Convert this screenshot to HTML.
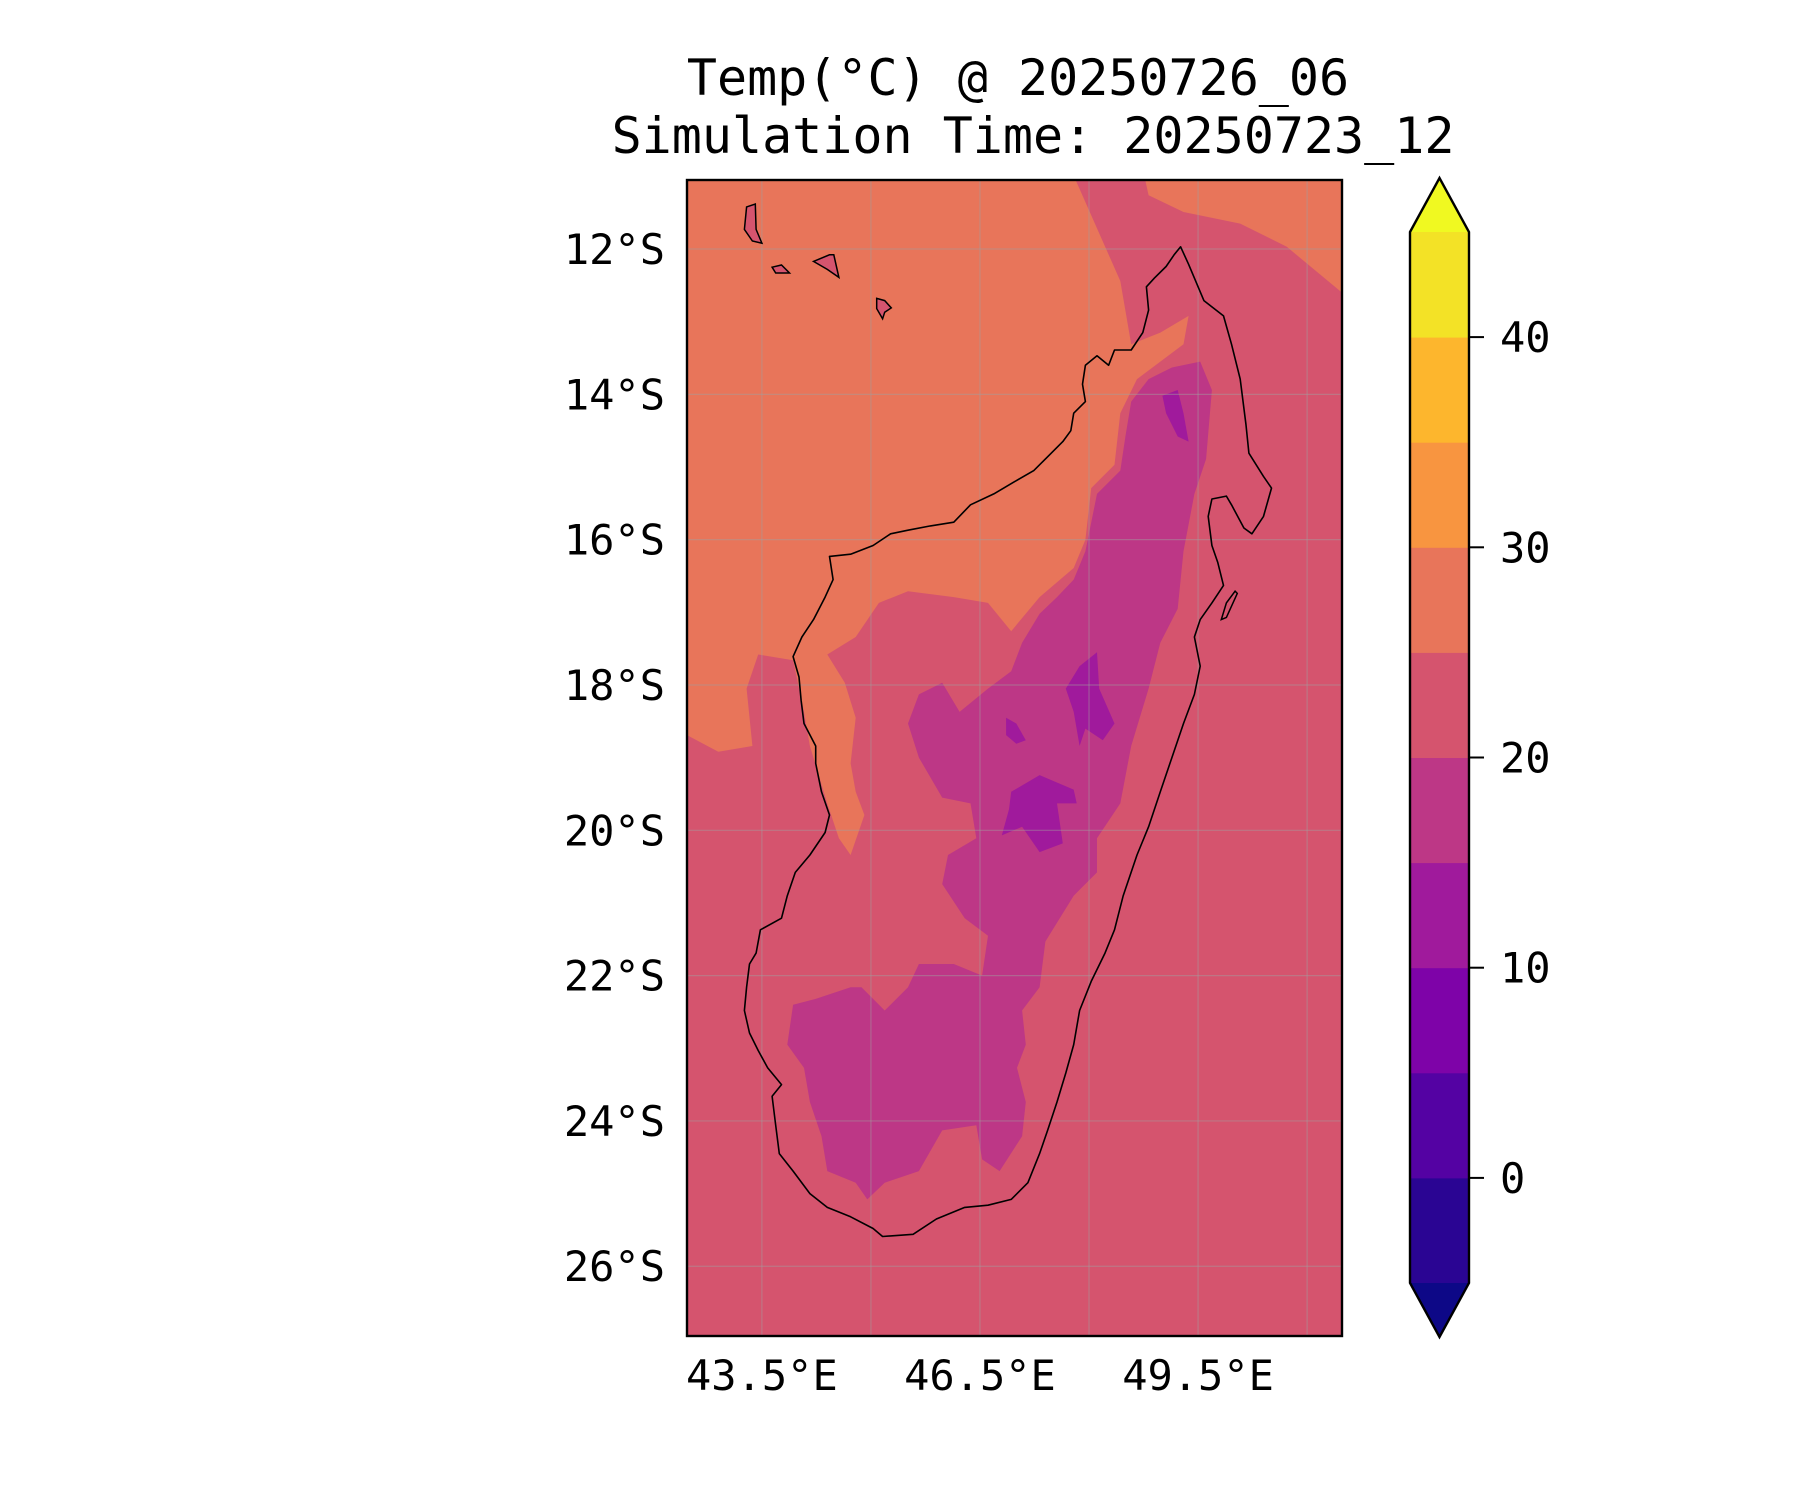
<!DOCTYPE html>
<html><head><meta charset="utf-8"><style>
html,body{margin:0;padding:0;background:#fff;}
svg{display:block;font-family:"DejaVu Sans Mono","Liberation Mono",monospace;}
</style></head><body>
<svg id="fig" width="1800" height="1500" viewBox="0 0 1800 1500" xmlns="http://www.w3.org/2000/svg">
<defs><clipPath id="mapclip"><rect x="687" y="180" width="655" height="1156"/></clipPath></defs>
<text x="1018" y="95" font-size="50" text-anchor="middle">Temp(°C) @ 20250726_06</text>
<text x="1033" y="153" font-size="50" text-anchor="middle">Simulation Time: 20250723_12</text>
<g id="map" clip-path="url(#mapclip)"></g>
<g id="axes"></g>
<g id="cbar"></g>
</svg>
<script>
// ---- data (lon °E, lat in °S) ----
const lonTicks = [43.5, 46.5, 49.5];
const lonGrid = [43.5, 45, 46.5, 48, 49.5, 51];
const latTicks = [12, 14, 16, 18, 20, 22, 24, 26];
const levels = [-5, 0, 5, 10, 15, 20, 25, 30, 35, 40, 45];
const levelColors = ["#2a0593","#5402a3","#7e03a8","#a01a9c","#bd3786","#d5546e","#e8755a","#f89540","#fdb62d","#f3e226"];
const underColor = "#0d0887";
const overColor = "#f0f921";
const cbarTicks = [0, 10, 20, 30, 40];
const backgroundLevel = 20;
const islandLevel = 20;

const coast = [[49.26,11.97],[49.37,12.21],[49.58,12.71],[49.85,12.92],[49.96,13.31],[50.08,13.79],[50.16,14.42],[50.20,14.81],[50.40,15.13],[50.51,15.29],[50.40,15.68],[50.24,15.92],[50.13,15.84],[49.96,15.52],[49.89,15.40],[49.69,15.44],[49.64,15.68],[49.69,16.08],[49.77,16.31],[49.85,16.63],[49.69,16.87],[49.53,17.10],[49.45,17.34],[49.53,17.74],[49.45,18.13],[49.30,18.53],[49.14,19.00],[48.98,19.47],[48.82,19.95],[48.66,20.34],[48.47,20.90],[48.35,21.37],[48.22,21.69],[48.03,22.08],[47.87,22.48],[47.79,22.95],[47.68,23.34],[47.56,23.74],[47.43,24.13],[47.32,24.45],[47.16,24.85],[46.93,25.08],[46.61,25.16],[46.29,25.19],[45.90,25.35],[45.58,25.56],[45.16,25.59],[45.03,25.48],[44.72,25.32],[44.40,25.19],[44.16,25.00],[43.93,24.69],[43.74,24.45],[43.69,24.06],[43.64,23.66],[43.77,23.50],[43.58,23.27],[43.45,23.03],[43.33,22.79],[43.26,22.48],[43.29,22.16],[43.33,21.84],[43.42,21.69],[43.48,21.37],[43.77,21.21],[43.85,20.90],[43.96,20.58],[44.16,20.34],[44.37,20.03],[44.43,19.79],[44.32,19.47],[44.24,19.08],[44.24,18.84],[44.08,18.53],[44.04,18.21],[44.01,17.89],[43.93,17.61],[44.05,17.34],[44.21,17.10],[44.37,16.79],[44.48,16.55],[44.43,16.23],[44.72,16.20],[45.03,16.08],[45.27,15.92],[45.51,15.87],[45.82,15.81],[46.14,15.76],[46.37,15.52],[46.69,15.37],[46.96,15.21],[47.24,15.05],[47.48,14.81],[47.64,14.65],[47.75,14.50],[47.79,14.26],[47.95,14.10],[47.91,13.86],[47.95,13.60],[48.11,13.47],[48.27,13.60],[48.35,13.39],[48.58,13.39],[48.74,13.15],[48.82,12.84],[48.79,12.52],[48.90,12.40],[49.06,12.24],[49.17,12.08]];
const islandGrandeComore = [[43.29,11.42],[43.41,11.38],[43.42,11.73],[43.50,11.92],[43.37,11.89],[43.26,11.73]];
const islandMoheli = [[43.64,12.25],[43.77,12.22],[43.88,12.33],[43.69,12.33]];
const islandAnjouan = [[44.21,12.17],[44.43,12.08],[44.49,12.08],[44.56,12.39],[44.40,12.28]];
const islandMayotte = [[45.08,12.68],[45.19,12.71],[45.28,12.81],[45.19,12.87],[45.16,12.96],[45.08,12.82]];
const islandSteMarie = [[50.01,16.71],[50.04,16.74],[49.89,17.07],[49.82,17.10],[49.89,16.87]];

const zoneWarmNW = [[42.3,10.9],[47.75,10.9],[48.43,12.44],[48.58,13.31],[48.98,13.15],[49.37,12.92],[49.30,13.31],[48.66,13.79],[48.43,14.26],[48.35,14.97],[48.03,15.29],[47.95,16.0],[47.79,16.39],[47.32,16.79],[46.93,17.26],[46.61,16.87],[46.14,16.79],[45.51,16.71],[45.11,16.87],[44.79,17.34],[44.40,17.58],[44.64,17.97],[44.79,18.45],[44.72,19.08],[44.79,19.47],[44.91,19.79],[44.72,20.34],[44.56,20.11],[44.40,19.63],[44.16,18.84],[44.08,18.37],[43.93,17.66],[43.45,17.58],[43.29,18.05],[43.37,18.84],[42.90,18.92],[42.3,18.6]];
const zoneWarmNE = [[48.74,10.9],[51.6,10.9],[51.6,12.7],[50.72,11.97],[50.08,11.65],[49.30,11.49],[48.82,11.26]];
const zoneCoolInterior = [[49.53,13.55],[49.69,13.94],[49.61,14.89],[49.45,15.37],[49.30,16.16],[49.22,16.95],[48.98,17.42],[48.82,18.05],[48.58,18.84],[48.43,19.63],[48.11,20.11],[48.11,20.58],[47.79,20.90],[47.40,21.53],[47.32,22.16],[47.08,22.48],[47.13,22.95],[47.01,23.27],[47.13,23.74],[47.08,24.21],[46.77,24.69],[46.53,24.53],[46.45,24.06],[45.98,24.13],[45.66,24.69],[45.19,24.85],[44.95,25.08],[44.79,24.85],[44.40,24.69],[44.32,24.21],[44.16,23.74],[44.08,23.27],[43.85,22.95],[43.93,22.40],[44.24,22.32],[44.72,22.16],[44.87,22.16],[45.19,22.48],[45.51,22.16],[45.66,21.84],[46.14,21.84],[46.53,22.00],[46.61,21.45],[46.29,21.21],[45.98,20.74],[46.06,20.34],[46.45,20.11],[46.37,19.63],[45.98,19.55],[45.66,19.00],[45.51,18.53],[45.66,18.13],[45.98,17.97],[46.22,18.37],[46.61,18.05],[46.93,17.81],[47.08,17.42],[47.32,17.02],[47.56,16.79],[47.79,16.55],[47.95,16.16],[48.11,15.37],[48.43,15.05],[48.50,14.58],[48.58,14.10],[48.82,13.79],[49.14,13.63]];
const zoneColdA = [[49.01,14.02],[49.22,13.94],[49.30,14.26],[49.37,14.65],[49.22,14.58],[49.06,14.26]];
const zoneColdB = [[47.87,17.74],[48.11,17.55],[48.14,18.05],[48.35,18.53],[48.19,18.76],[47.95,18.60],[47.87,18.84],[47.79,18.37],[47.68,18.05]];
const zoneColdC = [[46.93,19.47],[47.32,19.24],[47.79,19.44],[47.83,19.63],[47.56,19.63],[47.64,20.18],[47.32,20.30],[47.08,19.95],[46.80,20.07],[46.90,19.71]];
const zoneColdD = [[46.86,18.45],[47.0,18.53],[47.13,18.76],[47.0,18.81],[46.86,18.69]];
const zones = [[25, zoneWarmNW],[25, zoneWarmNE],[15, zoneCoolInterior],[10, zoneColdA],[10, zoneColdB],[10, zoneColdC],[10, zoneColdD]];
const islandShapes = [islandGrandeComore, islandMoheli, islandAnjouan, islandMayotte, islandSteMarie];

// ---- projection ----
const X0=687, X1=1342, Y0=180, Y1=1336;
const LON0=42.47, LON1=51.48, LAT0=11.05, LAT1=26.96;
const px = lon => X0 + (lon-LON0)/(LON1-LON0)*(X1-X0);
const py = lat => Y0 + (lat-LAT0)/(LAT1-LAT0)*(Y1-Y0);
const NS="http://www.w3.org/2000/svg";
function colorFor(v){ for(let i=0;i<levels.length-1;i++){ if(v>=levels[i]&&v<levels[i+1]) return levelColors[i]; } return v<levels[0]?underColor:overColor; }
function pts(poly){ return poly.map(p=>px(p[0]).toFixed(1)+","+py(p[1]).toFixed(1)).join(" "); }

const map=document.getElementById('map');
const bg=document.createElementNS(NS,'rect');
bg.setAttribute('x',X0);bg.setAttribute('y',Y0);bg.setAttribute('width',X1-X0);bg.setAttribute('height',Y1-Y0);
bg.setAttribute('fill',colorFor(backgroundLevel));


map.appendChild(bg);
zones.forEach(z=>{
  const p=document.createElementNS(NS,'polygon');
  p.setAttribute('points',pts(z[1]));p.setAttribute('fill',colorFor(z[0]));
  
  
  map.appendChild(p);
});
lonGrid.forEach(l=>{
  const ln=document.createElementNS(NS,'line');
  ln.setAttribute('x1',px(l));ln.setAttribute('x2',px(l));ln.setAttribute('y1',Y0);ln.setAttribute('y2',Y1);
  ln.setAttribute('stroke','rgba(160,160,160,0.45)');ln.setAttribute('stroke-width','1.2');
  
  
  map.appendChild(ln);
});
latTicks.forEach(l=>{
  const ln=document.createElementNS(NS,'line');
  ln.setAttribute('y1',py(l));ln.setAttribute('y2',py(l));ln.setAttribute('x1',X0);ln.setAttribute('x2',X1);
  ln.setAttribute('stroke','rgba(160,160,160,0.45)');ln.setAttribute('stroke-width','1.2');
  
  
  map.appendChild(ln);
});
const c=document.createElementNS(NS,'polygon');
c.setAttribute('points',pts(coast));c.setAttribute('fill','none');c.setAttribute('stroke','#000');c.setAttribute('stroke-width','1.6');c.setAttribute('stroke-linejoin','round');


map.appendChild(c);
islandShapes.forEach(s=>{
  const p=document.createElementNS(NS,'polygon');
  p.setAttribute('points',pts(s));p.setAttribute('fill',colorFor(islandLevel));p.setAttribute('stroke','#000');p.setAttribute('stroke-width','1.5');
  
  
  map.appendChild(p);
});

const ax=document.getElementById('axes');
const frame=document.createElementNS(NS,'rect');
frame.setAttribute('x',X0);frame.setAttribute('y',Y0);frame.setAttribute('width',X1-X0);frame.setAttribute('height',Y1-Y0);
frame.setAttribute('fill','none');frame.setAttribute('stroke','#000');frame.setAttribute('stroke-width','2.4');


ax.appendChild(frame);
latTicks.forEach(l=>{
  const t=document.createElementNS(NS,'text');
  t.setAttribute('x',665);t.setAttribute('y',py(l)+15);t.setAttribute('font-size','42');t.setAttribute('text-anchor','end');
  t.textContent=l+"°S";
  
  
  ax.appendChild(t);
});
lonTicks.forEach(l=>{
  const t=document.createElementNS(NS,'text');
  t.setAttribute('x',px(l));t.setAttribute('y',1390);t.setAttribute('font-size','42');t.setAttribute('text-anchor','middle');
  t.textContent=l.toFixed(1)+"°E";
  
  
  ax.appendChild(t);
});

const cb=document.getElementById('cbar');
const CX0=1410, CX1=1469, CT=232, CB=1283, TIP_T=178, TIP_B=1337;
const cy = v => CB - (v-levels[0])/(levels[levels.length-1]-levels[0])*(CB-CT);
for(let i=0;i<levels.length-1;i++){
  const r=document.createElementNS(NS,'rect');
  r.setAttribute('x',CX0);r.setAttribute('width',CX1-CX0);
  r.setAttribute('y',cy(levels[i+1]));r.setAttribute('height',cy(levels[i])-cy(levels[i+1])+0.5);
  r.setAttribute('fill',levelColors[i]);
  
  
  cb.appendChild(r);
}
const cm=(CX0+CX1)/2;
const up=document.createElementNS(NS,'polygon');
up.setAttribute('points',`${CX0},${CT} ${cm},${TIP_T} ${CX1},${CT}`);up.setAttribute('fill',overColor);


cb.appendChild(up);
const dn=document.createElementNS(NS,'polygon');
dn.setAttribute('points',`${CX0},${CB} ${cm},${TIP_B} ${CX1},${CB}`);dn.setAttribute('fill',underColor);


cb.appendChild(dn);
const outline=document.createElementNS(NS,'polygon');
outline.setAttribute('points',`${CX0},${CT} ${cm},${TIP_T} ${CX1},${CT} ${CX1},${CB} ${cm},${TIP_B} ${CX0},${CB}`);
outline.setAttribute('fill','none');outline.setAttribute('stroke','#000');outline.setAttribute('stroke-width','2.4');


cb.appendChild(outline);
cbarTicks.forEach(v=>{
  const ln=document.createElementNS(NS,'line');
  ln.setAttribute('x1',CX1);ln.setAttribute('x2',CX1+15);ln.setAttribute('y1',cy(v));ln.setAttribute('y2',cy(v));
  ln.setAttribute('stroke','#000');ln.setAttribute('stroke-width','2');
  
  
  cb.appendChild(ln);
  const t=document.createElementNS(NS,'text');
  t.setAttribute('x',1500);t.setAttribute('y',cy(v)+15);t.setAttribute('font-size','42');
  t.textContent=v;
  
  
  cb.appendChild(t);
});
</script>
</body></html>
